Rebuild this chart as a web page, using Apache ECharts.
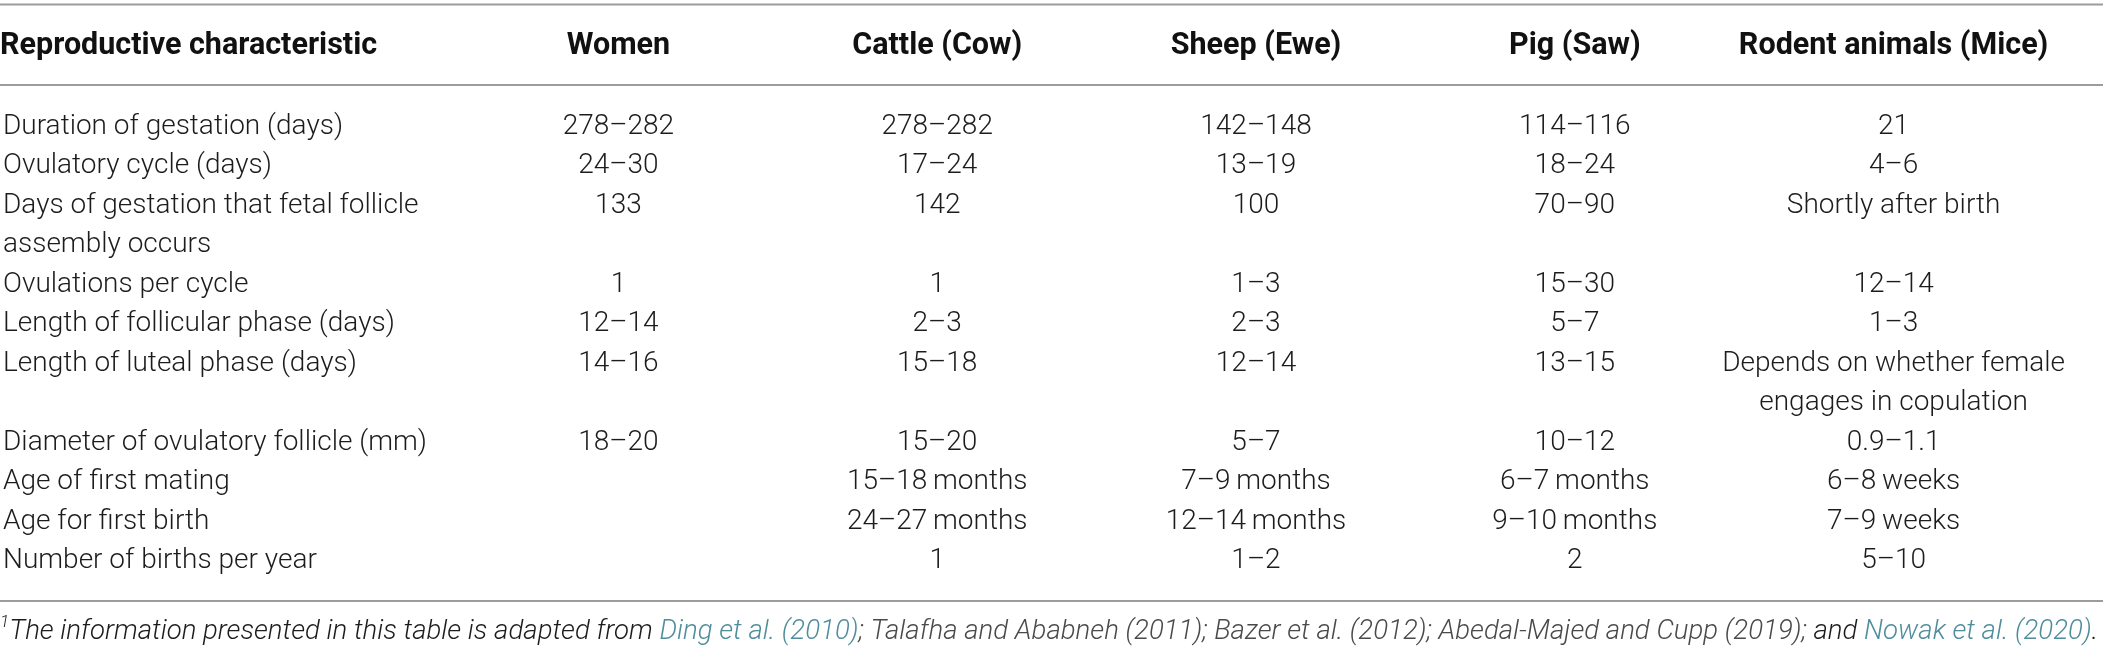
<!DOCTYPE html>
<html lang="en">
<head>
<meta charset="UTF-8">
<title>Reproductive characteristics</title>
<style>
  html, body { margin: 0; padding: 0; background: #fff; }
  #main { width: 2103px; height: 652px; }
</style>
</head>
<body>
<div id="main"></div>
<script src="https://cdn.jsdelivr.net/npm/echarts@6/dist/echarts.min.js"></script>
<script>
// table content
var species = ['Women', 'Cattle (Cow)', 'Sheep (Ewe)', 'Pig (Saw)', 'Rodent animals (Mice)'];
var characteristics = [
  'Duration of gestation (days)',
  'Ovulatory cycle (days)',
  'Days of gestation that fetal follicle\nassembly occurs',
  'Ovulations per cycle',
  'Length of follicular phase (days)',
  'Length of luteal phase (days)',
  'Diameter of ovulatory follicle (mm)',
  'Age of first mating',
  'Age for first birth',
  'Number of births per year'
];
var women  = ['278–282', '24–30', '133', '1', '12–14', '14–16', '18–20', '', '', ''];
var cattle = ['278–282', '17–24', '142', '1', '2–3', '15–18', '15–20', '15–18\u2009months', '24–27\u2009months', '1'];
var sheep  = ['142–148', '13–19', '100', '1–3', '2–3', '12–14', '5–7', '7–9\u2009months', '12–14\u2009months', '1–2'];
var pig    = ['114–116', '18–24', '70–90', '15–30', '5–7', '13–15', '10–12', '6–7\u2009months', '9–10\u2009months', '2'];
var mice   = ['21', '4–6', 'Shortly after birth', '12–14', '1–3', 'Depends on whether female\nengages in copulation', '0.9–1.1', '6–8\u2009weeks', '7–9\u2009weeks', '5–10'];
var columns = [women, cattle, sheep, pig, mice];

var FONT = 'Roboto';
var INK = '#1c1c1c';
var RULE = '#9c9c9c';

// every row takes as many text lines as its tallest cell
var rowStart = [];
var slotLabels = [];
characteristics.forEach(function (label, r) {
  var n = label.split('\n').length;
  columns.forEach(function (col) { n = Math.max(n, col[r].split('\n').length); });
  rowStart.push(slotLabels.length);
  var parts = label.split('\n');
  for (var k = 0; k < n; k++) slotLabels.push(parts[k] || '');
});

var cells = [];
columns.forEach(function (col, c) {
  col.forEach(function (txt, r) {
    if (!txt) return;
    txt.split('\n').forEach(function (line, k) {
      cells.push([c, rowStart[r] + k, line]);
    });
  });
});

var noteStyle = function (color, size) {
  return { fontFamily: FONT, fontStyle: 'italic', fontWeight: 300, fontSize: size, color: color, lineHeight: 36 };
};

var myChart = echarts.init(document.getElementById('main'));
var option = {
  animation: false,
  backgroundColor: '#fff',
  title: [{
    text: 'Reproductive characteristic',
    left: 0, top: 28, padding: 0,
    textStyle: { fontFamily: FONT, fontWeight: 'bold', fontSize: 30.5, lineHeight: 36, color: '#111' }
  }, {
    text: '{sup|1}{t|The information presented in this table is adapted from }{l|Ding et al. (2010)}{c|; Talafha and Ababneh (2011); Bazer et al. (2012); Abedal-Majed and Cupp (2019);}{t| and }{l|Nowak et al. (2020)}{t|.}',
    left: 0, top: 614, padding: 0,
    textStyle: {
      rich: {
        sup: { fontFamily: FONT, fontStyle: 'italic', fontWeight: 300, fontSize: 17, color: INK, verticalAlign: 'top', lineHeight: 36 },
        t: noteStyle(INK, 27.6),
        l: noteStyle('#4f8d9c', 27.6),
        c: noteStyle('#4a4a4a', 27.6)
      }
    }
  }],
  grid: { left: 456, right: 50, top: 107, height: 474 },
  xAxis: {
    type: 'category',
    position: 'top',
    data: species,
    axisLine: { show: false },
    axisTick: { show: false },
    splitLine: { show: false },
    axisLabel: {
      interval: 0, margin: 61, verticalAlign: 'middle',
      fontFamily: FONT, fontWeight: 'bold', fontSize: 30.5, color: '#111'
    }
  },
  yAxis: {
    type: 'category',
    inverse: true,
    data: slotLabels,
    axisLine: { show: false },
    axisTick: { show: false },
    splitLine: { show: false },
    axisLabel: {
      interval: 0, align: 'left', margin: 456,
      fontFamily: FONT, fontWeight: 300, fontSize: 28, color: INK
    }
  },
  graphic: [
    { type: 'line', shape: { x1: 0, y1: 4.5, x2: 2103, y2: 4.5 }, style: { stroke: RULE, lineWidth: 2 } },
    { type: 'line', shape: { x1: 0, y1: 85, x2: 2103, y2: 85 }, style: { stroke: RULE, lineWidth: 2 } },
    { type: 'line', shape: { x1: 0, y1: 601, x2: 2103, y2: 601 }, style: { stroke: RULE, lineWidth: 2 } }
  ],
  series: [{
    type: 'custom',
    data: cells,
    renderItem: function (params, api) {
      var p = api.coord([api.value(0), api.value(1)]);
      return {
        type: 'text',
        style: {
          x: p[0], y: p[1],
          text: cells[params.dataIndex][2],
          align: 'center', verticalAlign: 'middle',
          fontFamily: FONT, fontWeight: 300, fontSize: 28, fill: INK
        }
      };
    }
  }]
};
myChart.setOption(option);
</script>
</body>
</html>
